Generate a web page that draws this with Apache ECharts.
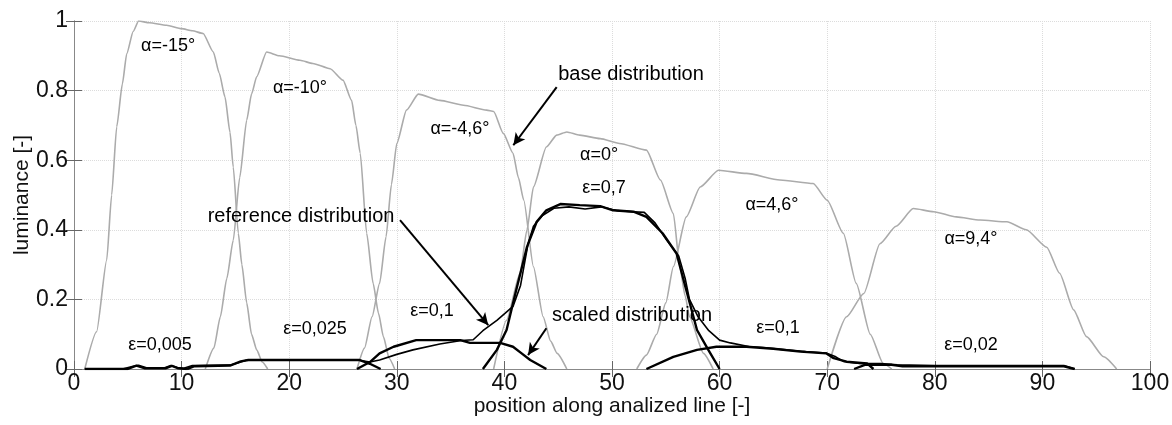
<!DOCTYPE html>
<html><head><meta charset="utf-8">
<script src="https://cdn.jsdelivr.net/npm/echarts@6/dist/echarts.min.js"></script>
<style>html,body{margin:0;padding:0;background:#fff}#c{width:1172px;height:425px}</style>
</head><body><div id="c"></div>
<script>
// ---- data ----
const xTicks = [0,10,20,30,40,50,60,70,80,90,100];
const yTicks = [0,0.2,0.4,0.6,0.8,1];
// base distributions (gray), [position, luminance]
const baseM15 = [[1,0],[2.1,0.107],[3.04,0.313],[3.5,0.5],[3.97,0.696],[4.5,0.82],[4.9,0.906],[5.5,0.97],[6,1.0],[7,0.995],[8.6,0.988],[10,0.978],[11,0.972],[12,0.964],[12.95,0.911],[13.5,0.85],[14.03,0.782],[14.5,0.68],[14.8,0.58],[15.27,0.39],[15.6,0.3],[16.05,0.19],[16.5,0.1],[16.98,0.055],[17.5,0.02],[18,0]];
const baseM10 = [[12.2,0],[13,0.06],[13.6,0.15],[14.2,0.26],[14.8,0.37],[15.4,0.55],[16.05,0.715],[16.5,0.79],[16.98,0.84],[17.9,0.911],[19.1,0.9],[21,0.887],[22.2,0.878],[23.8,0.863],[25,0.83],[25.8,0.772],[26.2,0.7],[26.6,0.62],[27.2,0.39],[27.8,0.246],[28.3,0.16],[28.75,0.093],[29.3,0.03],[29.8,0]];
const baseM46 = [[26.3,0],[27,0.06],[27.7,0.15],[28.4,0.246],[29,0.38],[29.5,0.53],[30,0.648],[30.9,0.744],[32,0.79],[34,0.772],[36.2,0.758],[38.35,0.744],[39,0.74],[39.9,0.677],[40.8,0.62],[41.3,0.55],[41.8,0.485],[42.7,0.294],[43.6,0.15],[44.3,0.08],[44.9,0.045],[45.8,0]];
const base0 = [[39,0],[40.2,0.14],[41.45,0.275],[42.1,0.4],[42.7,0.523],[43.9,0.638],[44.86,0.672],[45.8,0.681],[47,0.672],[48.9,0.662],[50.7,0.648],[53.2,0.629],[54.5,0.543],[55.7,0.447],[56.3,0.294],[56.8,0.21],[57.2,0.15],[58.5,0.045],[59.4,0]];
const baseP46 = [[52.3,0],[53.2,0.04],[54.15,0.1],[55,0.19],[55.7,0.294],[56.9,0.437],[58.2,0.523],[59.9,0.571],[62.5,0.562],[65.6,0.543],[68.7,0.533],[70,0.485],[71.5,0.39],[72.7,0.246],[74,0.1],[75.2,0.016],[76,0]];
const baseP94 = [[70,0],[71.8,0.15],[73.4,0.217],[74.9,0.36],[76.4,0.41],[78,0.461],[79.9,0.452],[82,0.437],[84.2,0.428],[86.7,0.423],[88.5,0.4],[90.4,0.35],[91.6,0.275],[92.9,0.17],[94.1,0.093],[95.7,0.035],[96.9,0]];
// reference distribution (continuous, black)
const reference = [[1,0],[4.5,0],[5.5,0.008],[6,0.011],[6.8,0.003],[8.3,0.002],[9,0.01],[9.6,0.004],[10.2,0.002],[11,0.01],[14.5,0.011],[15.5,0.02],[16,0.025],[19,0.025],[26.5,0.025],[27.5,0.02],[28.4,0.026],[30,0.042],[31.5,0.055],[34,0.072],[36,0.082],[37.1,0.084],[38,0.11],[39.3,0.14],[40.8,0.18],[41.5,0.24],[42.2,0.36],[42.7,0.41],[43.5,0.44],[44.6,0.462],[46,0.466],[47.5,0.46],[49,0.466],[50.5,0.455],[52,0.452],[53,0.45],[54,0.42],[55.1,0.37],[56.2,0.325],[56.8,0.26],[57.2,0.2],[58,0.15],[59,0.11],[60,0.083],[61,0.075],[62.8,0.064],[64,0.062],[66.2,0.055],[68,0.05],[69.9,0.046],[70.8,0.035],[71.5,0.022],[73,0.016],[75,0.016],[76.5,0.012],[80,0.01],[90,0.01],[92,0.01],[93,0]];
// scaled distributions (black, one per position)
const scaled005 = [[1,0],[5,0],[5.8,0.01],[6.6,0.002],[8.5,0.002],[9.1,0.009],[9.7,0.002],[10.5,0]];
const scaled025 = [[10.5,0],[11.2,0.008],[14.5,0.01],[15.5,0.022],[16.2,0.026],[26.5,0.026],[27.5,0.015],[28.5,0]];
const scaled01a = [[26.3,0],[27.5,0.02],[28.4,0.045],[29.7,0.064],[31.8,0.083],[35.9,0.083],[36.8,0.075],[39.6,0.075],[40.8,0.064],[41.6,0.045],[42.4,0.026],[43.9,0]];
const scaled07 = [[38,0],[39.3,0.055],[40.2,0.112],[41.1,0.227],[42.1,0.351],[43,0.423],[43.9,0.456],[45.2,0.474],[47,0.471],[48.9,0.468],[50.1,0.456],[52,0.452],[53.2,0.437],[54.7,0.39],[56,0.332],[56.9,0.227],[57.9,0.112],[58.95,0.055],[60,0]];
const scaled01b = [[53.2,0],[55.7,0.035],[57.9,0.055],[59.7,0.064],[62.5,0.064],[65,0.058],[67.5,0.05],[69.9,0.045],[70.6,0.031],[71.8,0.021],[73.7,0.016],[74.3,0]];
const scaled002 = [[72.5,0],[73.5,0.012],[76,0.012],[77,0.008],[92,0.008],[93,0]];
// annotations
const labelTexts = ['α=-15°','α=-10°','α=-4,6°','base distribution','α=0°','ε=0,7','α=4,6°','α=9,4°','reference distribution','scaled distribution','ε=0,005','ε=0,025','ε=0,1','ε=0,1','ε=0,02'];
const labelAt = [[8.74,0.927],[21.0,0.807],[35.87,0.689],[51.77,0.847],[48.8,0.614],[49.26,0.52],[64.87,0.471],[83.36,0.373],[21.1,0.439],[51.86,0.155],[7.99,0.069],[22.4,0.115],[33.27,0.167],[65.43,0.118],[83.36,0.069]];
const arrows = [[[44.86,0.81],[40.83,0.643]],[[30.3,0.428],[38.5,0.126]],[[43.9,0.117],[42.2,0.04]]];

const FONT = "'Liberation Sans',Arial,sans-serif";
const chart = echarts.init(document.getElementById('c'), null, {renderer:'canvas'});
const gray = s => ({type:'line', data:s, showSymbol:false, silent:true, z:2, smooth:0.2, smoothMonotone:'x', lineStyle:{color:'#ababab', width:1.6}});
const blackS = s => ({type:'line', data:s, showSymbol:false, silent:true, z:4, lineStyle:{color:'#000', width:2.4}});
const bigLabel = t => /distribution/.test(t);
chart.setOption({
  animation:false,
  backgroundColor:'#fff',
  grid:{left:74, right:22, top:21, bottom:56, outerBoundsMode:'none', containLabel:false},
  xAxis:[{type:'value', min:0, max:100, interval:10, name:'position along analized line [-]', nameLocation:'middle', nameGap:27, nameMoveOverlap:false,
    nameTextStyle:{fontFamily:FONT, fontSize:21, color:'#111'},
    axisLine:{show:true, onZero:false, lineStyle:{color:'#888'}}, axisTick:{inside:true, length:8, lineStyle:{color:'#666'}},
    axisLabel:{fontFamily:FONT, fontSize:23, color:'#111', margin:3, formatter:v=>xTicks.includes(v)?String(v):''},
    splitLine:{show:true, lineStyle:{color:'#dcdcdc', type:'dotted', width:1}}},
    {type:'value', position:'top', min:0, max:100, interval:10, axisLine:{show:true, lineStyle:{color:'#888'}}, axisTick:{inside:true, length:8, lineStyle:{color:'#666'}}, axisLabel:{show:false}, splitLine:{show:false}}],
  yAxis:[{type:'value', min:0, max:1, interval:0.2, name:'luminance [-]', nameLocation:'middle', nameGap:41, nameRotate:90, nameMoveOverlap:false,
    nameTextStyle:{fontFamily:FONT, fontSize:21, color:'#111'},
    axisLine:{show:true, lineStyle:{color:'#888'}}, axisTick:{inside:true, length:8, lineStyle:{color:'#666'}},
    axisLabel:{fontFamily:FONT, fontSize:23, color:'#111', margin:6, formatter:v=>{const t=yTicks.find(k=>Math.abs(k-v)<1e-6); return t===undefined?'':(t===0||t===1?String(t):t.toFixed(1));}},
    splitLine:{show:true, lineStyle:{color:'#dcdcdc', type:'dotted', width:1}}},
    {type:'value', position:'right', min:0, max:1, interval:0.2, axisLine:{show:true, lineStyle:{color:'#888'}}, axisTick:{inside:true, length:8, lineStyle:{color:'#666'}}, axisLabel:{show:false}, splitLine:{show:false}}],
  series:[
    gray(baseM15), gray(baseM10), gray(baseM46), gray(base0), gray(baseP46), gray(baseP94),
    {type:'line', data:reference, showSymbol:false, silent:true, z:3, lineStyle:{color:'#000', width:1.6}},
    blackS(scaled005), blackS(scaled025), blackS(scaled01a), blackS(scaled07), blackS(scaled01b), blackS(scaled002),
    {type:'line', data:[], silent:true, z:6,
      markLine:{silent:true, symbol:['none','arrow'], symbolSize:[9,12], precision:4, label:{show:false},
        lineStyle:{color:'#000', width:2, type:'solid'},
        data:arrows.map(a=>[{coord:a[0]},{coord:a[1]}])}}
  ]
});
// text annotations positioned through the chart's own coordinate system
chart.setOption({graphic: labelTexts.map((t,i)=>{
  const p = chart.convertToPixel({gridIndex:0}, labelAt[i]);
  return {type:'text', x:p[0], y:p[1], z:100, silent:true,
    style:{text:t, fill:'#000', font:(bigLabel(t)?20:18)+'px '+FONT, align:'center', verticalAlign:'middle'}};
})});
</script></body></html>
